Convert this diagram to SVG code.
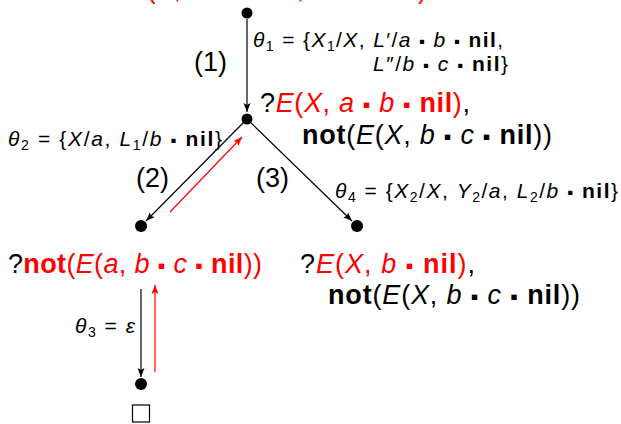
<svg xmlns="http://www.w3.org/2000/svg" width="621" height="424" viewBox="0 0 621 424">
<defs>
<style>
.t{font-family:"Liberation Sans","DejaVu Sans",sans-serif;fill:#000}
.g{font-size:27px}
.s{font-size:21px}
.i{font-style:italic}
.b{font-weight:bold}
.r{fill:#f00}
.q{font-size:0.8em}
.e{stroke:#000;stroke-width:1.2;fill:none}
.re{stroke:#f00;stroke-width:1.2;fill:none}
.dot{fill:#000}
</style>
<marker id="ak" markerUnits="userSpaceOnUse" markerWidth="10" markerHeight="8" refX="9" refY="4" orient="auto"><path d="M0,0.5 L9,4 L0,7.5 L2,4 z" fill="#000"/></marker>
<marker id="ar" markerUnits="userSpaceOnUse" markerWidth="10" markerHeight="8" refX="9" refY="4" orient="auto"><path d="M0,0.5 L9,4 L0,7.5 L2,4 z" fill="#f00"/></marker>
</defs>
<rect width="621" height="424" fill="#fff"/>
<g id="connectors">
<line class="e" x1="247" y1="19" x2="247" y2="112" marker-end="url(#ak)"/>
<line class="e" x1="247" y1="119" x2="146" y2="221" marker-end="url(#ak)"/>
<line class="e" x1="247" y1="119" x2="352" y2="221" marker-end="url(#ak)"/>
<line class="e" x1="141" y1="289" x2="141" y2="377" marker-end="url(#ak)"/>
<line class="re" x1="170" y1="212" x2="242" y2="137" marker-end="url(#ar)"/>
<line class="re" x1="155" y1="372" x2="155" y2="285" marker-end="url(#ar)"/>
</g>
<g id="n0">
<circle class="dot" cx="247" cy="13" r="5.5"/>
<text class="t g" x="112" y="-2" textLength="315"><tspan>?</tspan><tspan class="r"><tspan class="i">D</tspan>(<tspan class="i">X</tspan>, <tspan class="i">a</tspan> <tspan class="q">▪</tspan> <tspan class="i">b</tspan> <tspan class="q">▪</tspan> <tspan class="b">nil</tspan>, <tspan class="i">b</tspan> <tspan class="q">▪</tspan> <tspan class="i">c</tspan> <tspan class="q">▪</tspan> <tspan class="b">nil</tspan>)</tspan></text>
</g>
<g id="n1">
<circle class="dot" cx="247" cy="119" r="5.5"/>
<text class="t g" x="260" y="112" textLength="210"><tspan>?</tspan><tspan class="r"><tspan class="i">E</tspan>(<tspan class="i">X</tspan>, <tspan class="i">a</tspan> <tspan class="q">▪</tspan> <tspan class="i">b</tspan> <tspan class="q">▪</tspan> <tspan class="b">nil</tspan>)</tspan>,</text>
<text class="t g" x="302" y="144" textLength="250"><tspan class="b">not</tspan>(<tspan class="i">E</tspan>(<tspan class="i">X</tspan>, <tspan class="i">b</tspan> <tspan class="q">▪</tspan> <tspan class="i">c</tspan> <tspan class="q">▪</tspan> <tspan class="b">nil</tspan>))</text>
</g>
<g id="n2">
<circle class="dot" cx="141" cy="226" r="6"/>
<text class="t g" x="8" y="273" textLength="254"><tspan>?</tspan><tspan class="r"><tspan class="b">not</tspan>(<tspan class="i">E</tspan>(<tspan class="i">a</tspan>, <tspan class="i">b</tspan> <tspan class="q">▪</tspan> <tspan class="i">c</tspan> <tspan class="q">▪</tspan> <tspan class="b">nil</tspan>))</tspan></text>
</g>
<g id="n3">
<circle class="dot" cx="357" cy="226" r="6"/>
<text class="t g" x="300" y="273" textLength="175"><tspan>?</tspan><tspan class="r"><tspan class="i">E</tspan>(<tspan class="i">X</tspan>, <tspan class="i">b</tspan> <tspan class="q">▪</tspan> <tspan class="b">nil</tspan>)</tspan>,</text>
<text class="t g" x="328" y="304" textLength="252"><tspan class="b">not</tspan>(<tspan class="i">E</tspan>(<tspan class="i">X</tspan>, <tspan class="i">b</tspan> <tspan class="q">▪</tspan> <tspan class="i">c</tspan> <tspan class="q">▪</tspan> <tspan class="b">nil</tspan>))</text>
</g>
<g id="n4">
<circle class="dot" cx="141" cy="384" r="6"/>
<rect x="132.5" y="405" width="17" height="17" fill="none" stroke="#000" stroke-width="1.2"/>
</g>
<g id="labels">
<text class="t g" x="194" y="71">(1)</text>
<text class="t g" x="136" y="187">(2)</text>
<text class="t g" x="256" y="187">(3)</text>
<text class="t s" x="253" y="47" textLength="250"><tspan class="i">θ</tspan><tspan font-size="14" dy="4">1</tspan><tspan dy="-4"> = {</tspan><tspan class="i">X</tspan><tspan font-size="14" dy="4">1</tspan><tspan dy="-4">/</tspan><tspan class="i">X</tspan>, <tspan class="i">L</tspan>′/<tspan class="i">a</tspan> <tspan class="q">▪</tspan> <tspan class="i">b</tspan> <tspan class="q">▪</tspan> <tspan class="b">nil</tspan>,</text>
<text class="t s" x="373" y="71" textLength="135"><tspan class="i">L</tspan>″/<tspan class="i">b</tspan> <tspan class="q">▪</tspan> <tspan class="i">c</tspan> <tspan class="q">▪</tspan> <tspan class="b">nil</tspan>}</text>
<text class="t s" x="8" y="146" textLength="214"><tspan class="i">θ</tspan><tspan font-size="14" dy="4">2</tspan><tspan dy="-4"> = {</tspan><tspan class="i">X</tspan>/<tspan class="i">a</tspan>, <tspan class="i">L</tspan><tspan font-size="14" dy="4">1</tspan><tspan dy="-4">/</tspan><tspan class="i">b</tspan> <tspan class="q">▪</tspan> <tspan class="b">nil</tspan>}</text>
<text class="t s" x="335" y="198" textLength="283"><tspan class="i">θ</tspan><tspan font-size="14" dy="4">4</tspan><tspan dy="-4"> = {</tspan><tspan class="i">X</tspan><tspan font-size="14" dy="4">2</tspan><tspan dy="-4">/</tspan><tspan class="i">X</tspan>, <tspan class="i">Y</tspan><tspan font-size="14" dy="4">2</tspan><tspan dy="-4">/</tspan><tspan class="i">a</tspan>, <tspan class="i">L</tspan><tspan font-size="14" dy="4">2</tspan><tspan dy="-4">/</tspan><tspan class="i">b</tspan> <tspan class="q">▪</tspan> <tspan class="b">nil</tspan>}</text>
<text class="t s" x="75" y="333" textLength="60"><tspan class="i">θ</tspan><tspan font-size="14" dy="4">3</tspan><tspan dy="-4"> = </tspan><tspan class="i">ε</tspan></text>
</g>
</svg>
